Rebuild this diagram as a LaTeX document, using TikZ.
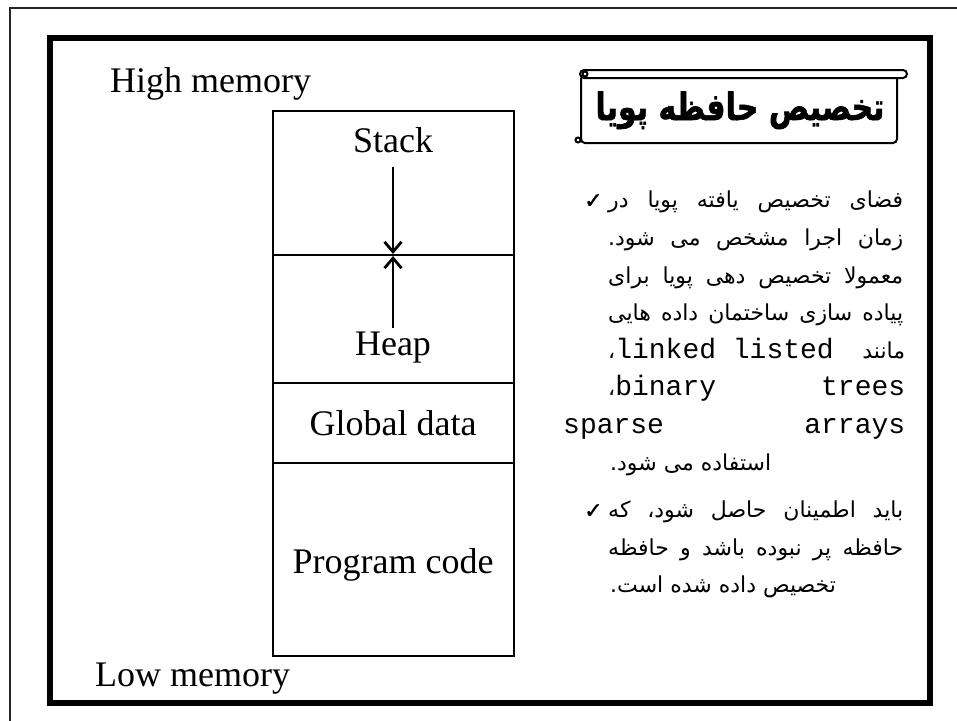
\documentclass[tikz,border=0pt]{standalone}
\usepackage{fontspec}
\usepackage{graphicx}
\setmainfont{Liberation Serif}
\newfontfamily\fa[Script=Arabic]{DejaVu Sans}
\newfontfamily\fatitle[Script=Arabic,FakeBold=1.6]{DejaVu Sans Bold}
\newfontfamily\mono{Liberation Mono}
\newfontfamily\sym[FakeBold=1.2]{DejaVu Sans}
\TeXXeTstate=1
\usetikzlibrary{arrows.meta}
\newcommand\fasize{\fontsize{22}{26}\selectfont}
\newcommand\mosize{\fontsize{28}{30}\selectfont}
\newcommand\jl[2][295pt]{\hbox to #1{\fasize\fa\beginR #2\endR}}
\newcommand\nl[1]{\hbox{\fasize\fa\beginR #1\endR}}
\begin{document}
\begin{tikzpicture}[x=1pt,y=-1pt,
  lbl/.style={inner sep=0pt,font=\fontsize{36}{40}\selectfont},
  txt/.style={inner sep=0pt,anchor=base west},
  seg/.style={draw,line width=2.8pt},
  arr/.style={line width=2.6pt,-{Straight Barb[length=10pt,width=17pt,line width=2.8pt]}},
  scroll/.style={draw,line width=2pt},
  chk/.style={inner sep=0pt,anchor=base west,font=\sym\fontsize{22}{24}\selectfont}]
\useasboundingbox (0,0) rectangle (957,720);
% outer frame (partial)
\draw[line width=2pt,black!85] (10,725) -- (10,8) -- (962,8);
% inner thick frame
\draw[line width=6.5pt] (50,38) rectangle (930,703);
% memory layout
\draw[seg] (273,111) rectangle (514,656);
\draw[seg] (273,255) -- (514,255);
\draw[seg] (273,383) -- (514,383);
\draw[seg] (273,463) -- (514,463);
\node[lbl,anchor=base west] (high) at (110,92) {High memory};
\node[lbl,anchor=base west] (low) at (95,686) {Low memory};
\node[lbl,anchor=base] (stack) at (393,152) {Stack};
\node[lbl,anchor=base] (heap) at (393,355) {Heap};
\node[lbl,anchor=base] (glob) at (393,435) {Global data};
\node[lbl,anchor=base] (prog) at (393,573) {Program code};
\coordinate (sTop) at (393,167);
\coordinate (sTip) at (393,254);
\coordinate (hBot) at (393,328);
\coordinate (hTip) at (393,256);
\draw[arr] (sTop) -- (sTip);
\draw[arr] (hBot) -- (hTip);
% title scroll
\draw[scroll,rounded corners=4pt] (580,70) rectangle (907,78);
\draw[scroll,rounded corners=4pt] (581,78) -- (581,143) -- (897,143) -- (897,78);
\draw[scroll] (585,74) circle (2.5);
\draw[scroll] (578,140) circle (2.5);
\node[inner sep=0pt,anchor=base] (title) at (740,120)
  {\scalebox{1}[1.25]{\fontsize{30}{34}\selectfont\fatitle\beginR تخصیص حافظه پویا\endR}};
% bullets
\node[chk] (c1) at (584,208) {✓};
\node[chk] (c2) at (584,518) {✓};
% body lines
\node[txt] (l1) at (608,207) {\jl{فضای\hfill تخصیص\hfill یافته\hfill پویا\hfill در}};
\node[txt] (l2) at (608,245) {\jl{زمان\hfill اجرا\hfill مشخص\hfill می\hfill شود.}};
\node[txt] (l3) at (608,283) {\jl{معمولا\hfill تخصیص\hfill دهی\hfill پویا\hfill برای}};
\node[txt] (l4) at (608,320) {\jl{پیاده\hfill سازی\hfill ساختمان\hfill داده\hfill هایی}};
\node[txt] (l5) at (608,358) {\hbox to 297pt{{\fasize\fa ،}{\mono\mosize linked listed}\hfill{\fasize\fa\beginR مانند\endR}}};
\node[txt] (l6) at (608,395) {\hbox to 297pt{{\fasize\fa ،}{\mono\mosize binary}\hfill{\mono\mosize trees}}};
\node[txt] (l7) at (563,433) {\hbox to 342pt{{\mono\mosize sparse}\hfill{\mono\mosize arrays}}};
\node[txt] (l8) at (610,470) {\nl{استفاده می شود.}};
\node[txt] (l9) at (608,517) {\jl{باید\hfill اطمینان\hfill حاصل\hfill شود،\hfill که}};
\node[txt] (l10) at (608,555) {\jl{حافظه\hfill پر\hfill نبوده\hfill باشد\hfill و\hfill حافظه}};
\node[txt] (l11) at (610,592) {\nl{تخصیص داده شده است.}};
\end{tikzpicture}
\end{document}
